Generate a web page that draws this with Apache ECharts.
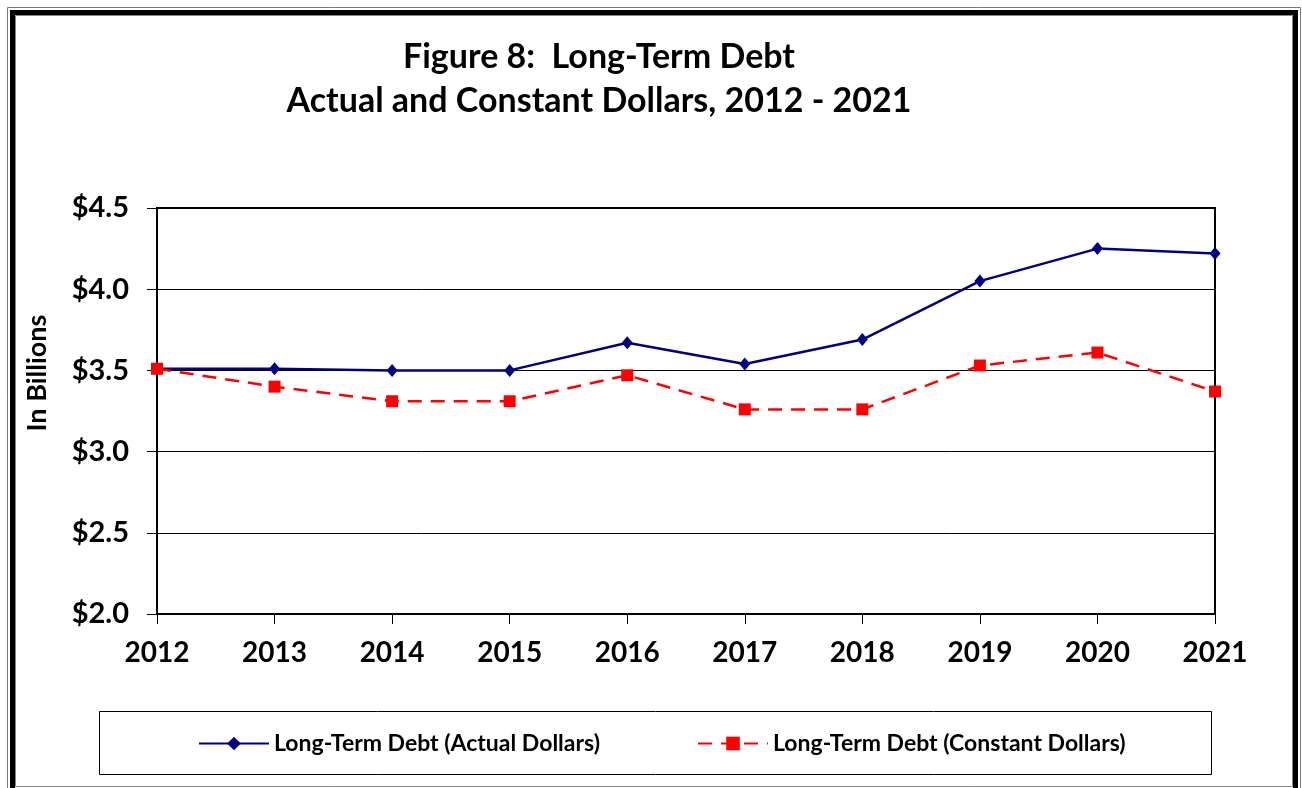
<!DOCTYPE html>
<html>
<head>
<meta charset="utf-8">
<script src="https://cdn.jsdelivr.net/npm/echarts@6/dist/echarts.min.js"></script>
<style>
html,body{margin:0;padding:0;background:#fff;}
#chart{width:1302px;height:788px;}
</style>
</head>
<body>
<div id="chart"></div>
<script>
const years = ['2012','2013','2014','2015','2016','2017','2018','2019','2020','2021'];
const actualDollars = [3.51, 3.51, 3.50, 3.50, 3.67, 3.54, 3.69, 4.05, 4.25, 4.22];
const constantDollars = [3.51, 3.40, 3.31, 3.31, 3.47, 3.26, 3.26, 3.53, 3.61, 3.37];
const seriesNames = ['Long-Term Debt (Actual Dollars)', 'Long-Term Debt (Constant Dollars)'];
const titleLines = ['Figure 8:  Long-Term Debt', 'Actual and Constant Dollars, 2012 - 2021'];
const yAxisTitle = 'In Billions';

const FONT = 'Lato';
const chart = echarts.init(document.getElementById('chart'), null, {renderer: 'canvas'});

const legendText = {fontFamily: FONT, fontWeight: 'bold', fontSize: 23, color: '#000', lineHeight: 22};

const option = {
  backgroundColor: '#fff',
  animation: false,
  textStyle: {fontFamily: FONT},
  grid: {left: 157, right: 87, top: 208, bottom: 174, show: true, borderColor: '#000', borderWidth: 2, backgroundColor: 'transparent'},
  xAxis: {
    type: 'category',
    data: years,
    boundaryGap: false,
    axisLine: {lineStyle: {color: '#000', width: 2}},
    axisTick: {show: true, length: 10, lineStyle: {color: '#000', width: 1}},
    axisLabel: {color: '#000', fontFamily: FONT, fontWeight: 'bold', fontSize: 28, margin: 25},
    splitLine: {show: false}
  },
  yAxis: {
    type: 'value',
    min: 2, max: 4.5, interval: 0.5,
    axisLine: {show: true, lineStyle: {color: '#000', width: 2}},
    axisTick: {show: true, length: 10, lineStyle: {color: '#000', width: 1}},
    axisLabel: {color: '#000', fontFamily: FONT, fontWeight: 'bold', fontSize: 29, margin: 28,
      formatter: v => '$' + v.toFixed(1)},
    splitLine: {show: true, lineStyle: {color: '#000', width: 1}}
  },
  legend: [
    {data: [seriesNames[0]], left: 198, top: 732, padding: 0, itemWidth: 70, itemHeight: 17, textStyle: legendText},
    {data: [seriesNames[1]], left: 697, top: 732, padding: 0, itemWidth: 70, itemHeight: 17, textStyle: legendText}
  ],
  series: [
    {
      name: seriesNames[0], type: 'line', data: actualDollars,
      symbol: 'diamond', symbolSize: [11, 13],
      lineStyle: {color: '#000080', width: 2.5},
      itemStyle: {color: '#000080'},
      z: 3
    },
    {
      name: seriesNames[1], type: 'line', data: constantDollars,
      symbol: 'rect', symbolSize: 12,
      lineStyle: {color: '#ff0000', width: 2.5, type: [14, 9]},
      itemStyle: {color: '#ff0000'},
      z: 4
    }
  ],
  graphic: [
    {type: 'rect', shape: {x: 7.5, y: 7.5, width: 1293, height: 800}, style: {fill: 'none', stroke: '#777', lineWidth: 1}, silent: true},
    {type: 'rect', shape: {x: 12.5, y: 12.5, width: 1283, height: 780}, style: {fill: 'none', stroke: '#000', lineWidth: 5}, silent: true},
    {type: 'rect', shape: {x: 15.5, y: 15.5, width: 1277, height: 771}, style: {fill: 'none', stroke: '#888', lineWidth: 1}, silent: true},
    {type: 'rect', shape: {x: 99.5, y: 711.5, width: 1112, height: 63}, style: {fill: 'none', stroke: '#000', lineWidth: 1}, silent: true},
    {type: 'text', x: 599, y: 57, style: {text: titleLines[0], fontFamily: FONT, fontWeight: 'bold', fontSize: 34, fill: '#000', align: 'center', verticalAlign: 'middle'}},
    {type: 'text', x: 599, y: 101, style: {text: titleLines[1], fontFamily: FONT, fontWeight: 'bold', fontSize: 34, fill: '#000', align: 'center', verticalAlign: 'middle'}},
    {type: 'text', x: 37, y: 373, rotation: Math.PI / 2, style: {text: yAxisTitle, fontFamily: FONT, fontWeight: 'bold', fontSize: 27, fill: '#000', align: 'center', verticalAlign: 'middle'}}
  ]
};
chart.setOption(option);
</script>
</body>
</html>
